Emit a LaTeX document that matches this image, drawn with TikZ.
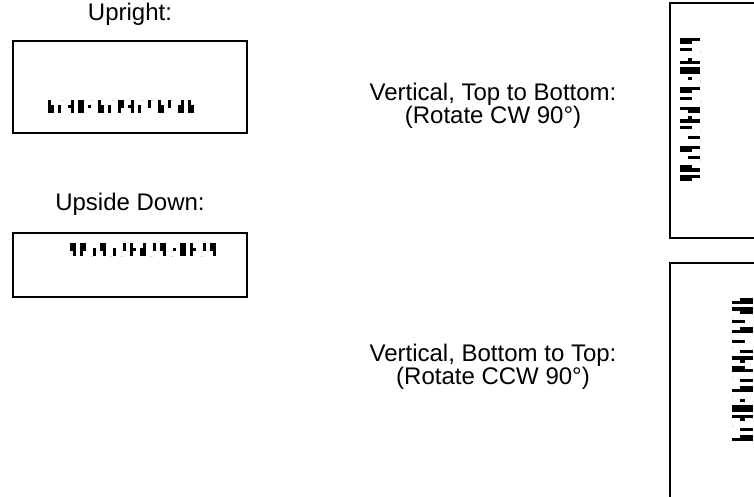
\documentclass[tikz,border=0pt]{standalone}
\usepackage{fontspec}
\setmainfont{Liberation Sans}
\begin{document}
\begin{tikzpicture}[x=1pt,y=-1pt,
  lbl/.style={inner sep=0pt,font=\fontsize{24}{24}\selectfont},
  frame/.style={draw=black,line width=2pt},
  bar/.style={fill=black,draw=none}]
\useasboundingbox (0,0) rectangle (754,497);
\def\pat{0/1/0.4/1, 0.4/1/0/0, 0.4/0.6/0/1, 0/1/0/1, 0.4/0.6/0/0, 0/1/0.4/1, 0.4/1/0/0, 0/1/0/0.6, 0.4/0.6/0/1, 0.4/1/0/0, 0/0.6/0/0, 0/1/0.4/1, 0/0.6/0/0, 0.4/1/0/1, 0/1/0.4/1}
\def\bw{3.1}
% labels
\node[lbl] (upr) at (130,14) {Upright:};
\node[lbl] (upd) at (130,204) {Upside Down:};
\node[lbl] (tb1) at (493,94) {Vertical, Top to Bottom:};
\node[lbl] (tb2) at (493,117) {(Rotate CW 90°)};
\node[lbl] (bt1) at (493,355) {Vertical, Bottom to Top:};
\node[lbl] (bt2) at (493,378) {(Rotate CCW 90°)};
% boxes
\draw[frame] (13,41) rectangle (247,133);
\draw[frame] (13,233) rectangle (247,297);
\draw[frame] (770,3) -- (670,3) -- (670,238) -- (770,238);
\draw[frame] (770,263) -- (670,263) -- (670,510);
% upright
\foreach \la/\ha/\lb/\hb [count=\i] in \pat {
  \fill[bar] ({48+(\i-1)*10},{100+\la*13}) rectangle ++(\bw,{(\ha-\la)*13});
  \fill[bar] ({48+(\i-1)*10+\bw},{100+\lb*13}) rectangle ++(\bw,{(\hb-\lb)*13});
}
% upside down
\foreach \la/\ha/\lb/\hb [count=\i] in \pat {
  \fill[bar] ({216-(\i-1)*10-\bw},{243+(1-\ha)*13}) rectangle ++(\bw,{(\ha-\la)*13});
  \fill[bar] ({216-(\i-1)*10-2*\bw},{243+(1-\hb)*13}) rectangle ++(\bw,{(\hb-\lb)*13});
}
% CW
\foreach \la/\ha/\lb/\hb [count=\i] in \pat {
  \fill[bar] ({700-\ha*20},{38+(\i-1)*9.8}) rectangle ++({(\ha-\la)*20},\bw);
  \fill[bar] ({700-\hb*20},{38+(\i-1)*9.8+\bw}) rectangle ++({(\hb-\lb)*20},\bw);
}
% CCW
\foreach \la/\ha/\lb/\hb [count=\i] in \pat {
  \fill[bar] ({732+\la*21},{441-(\i-1)*9.8-\bw}) rectangle ++({(\ha-\la)*21},\bw);
  \fill[bar] ({732+\lb*21},{441-(\i-1)*9.8-2*\bw}) rectangle ++({(\hb-\lb)*21},\bw);
}
\end{tikzpicture}
\end{document}
